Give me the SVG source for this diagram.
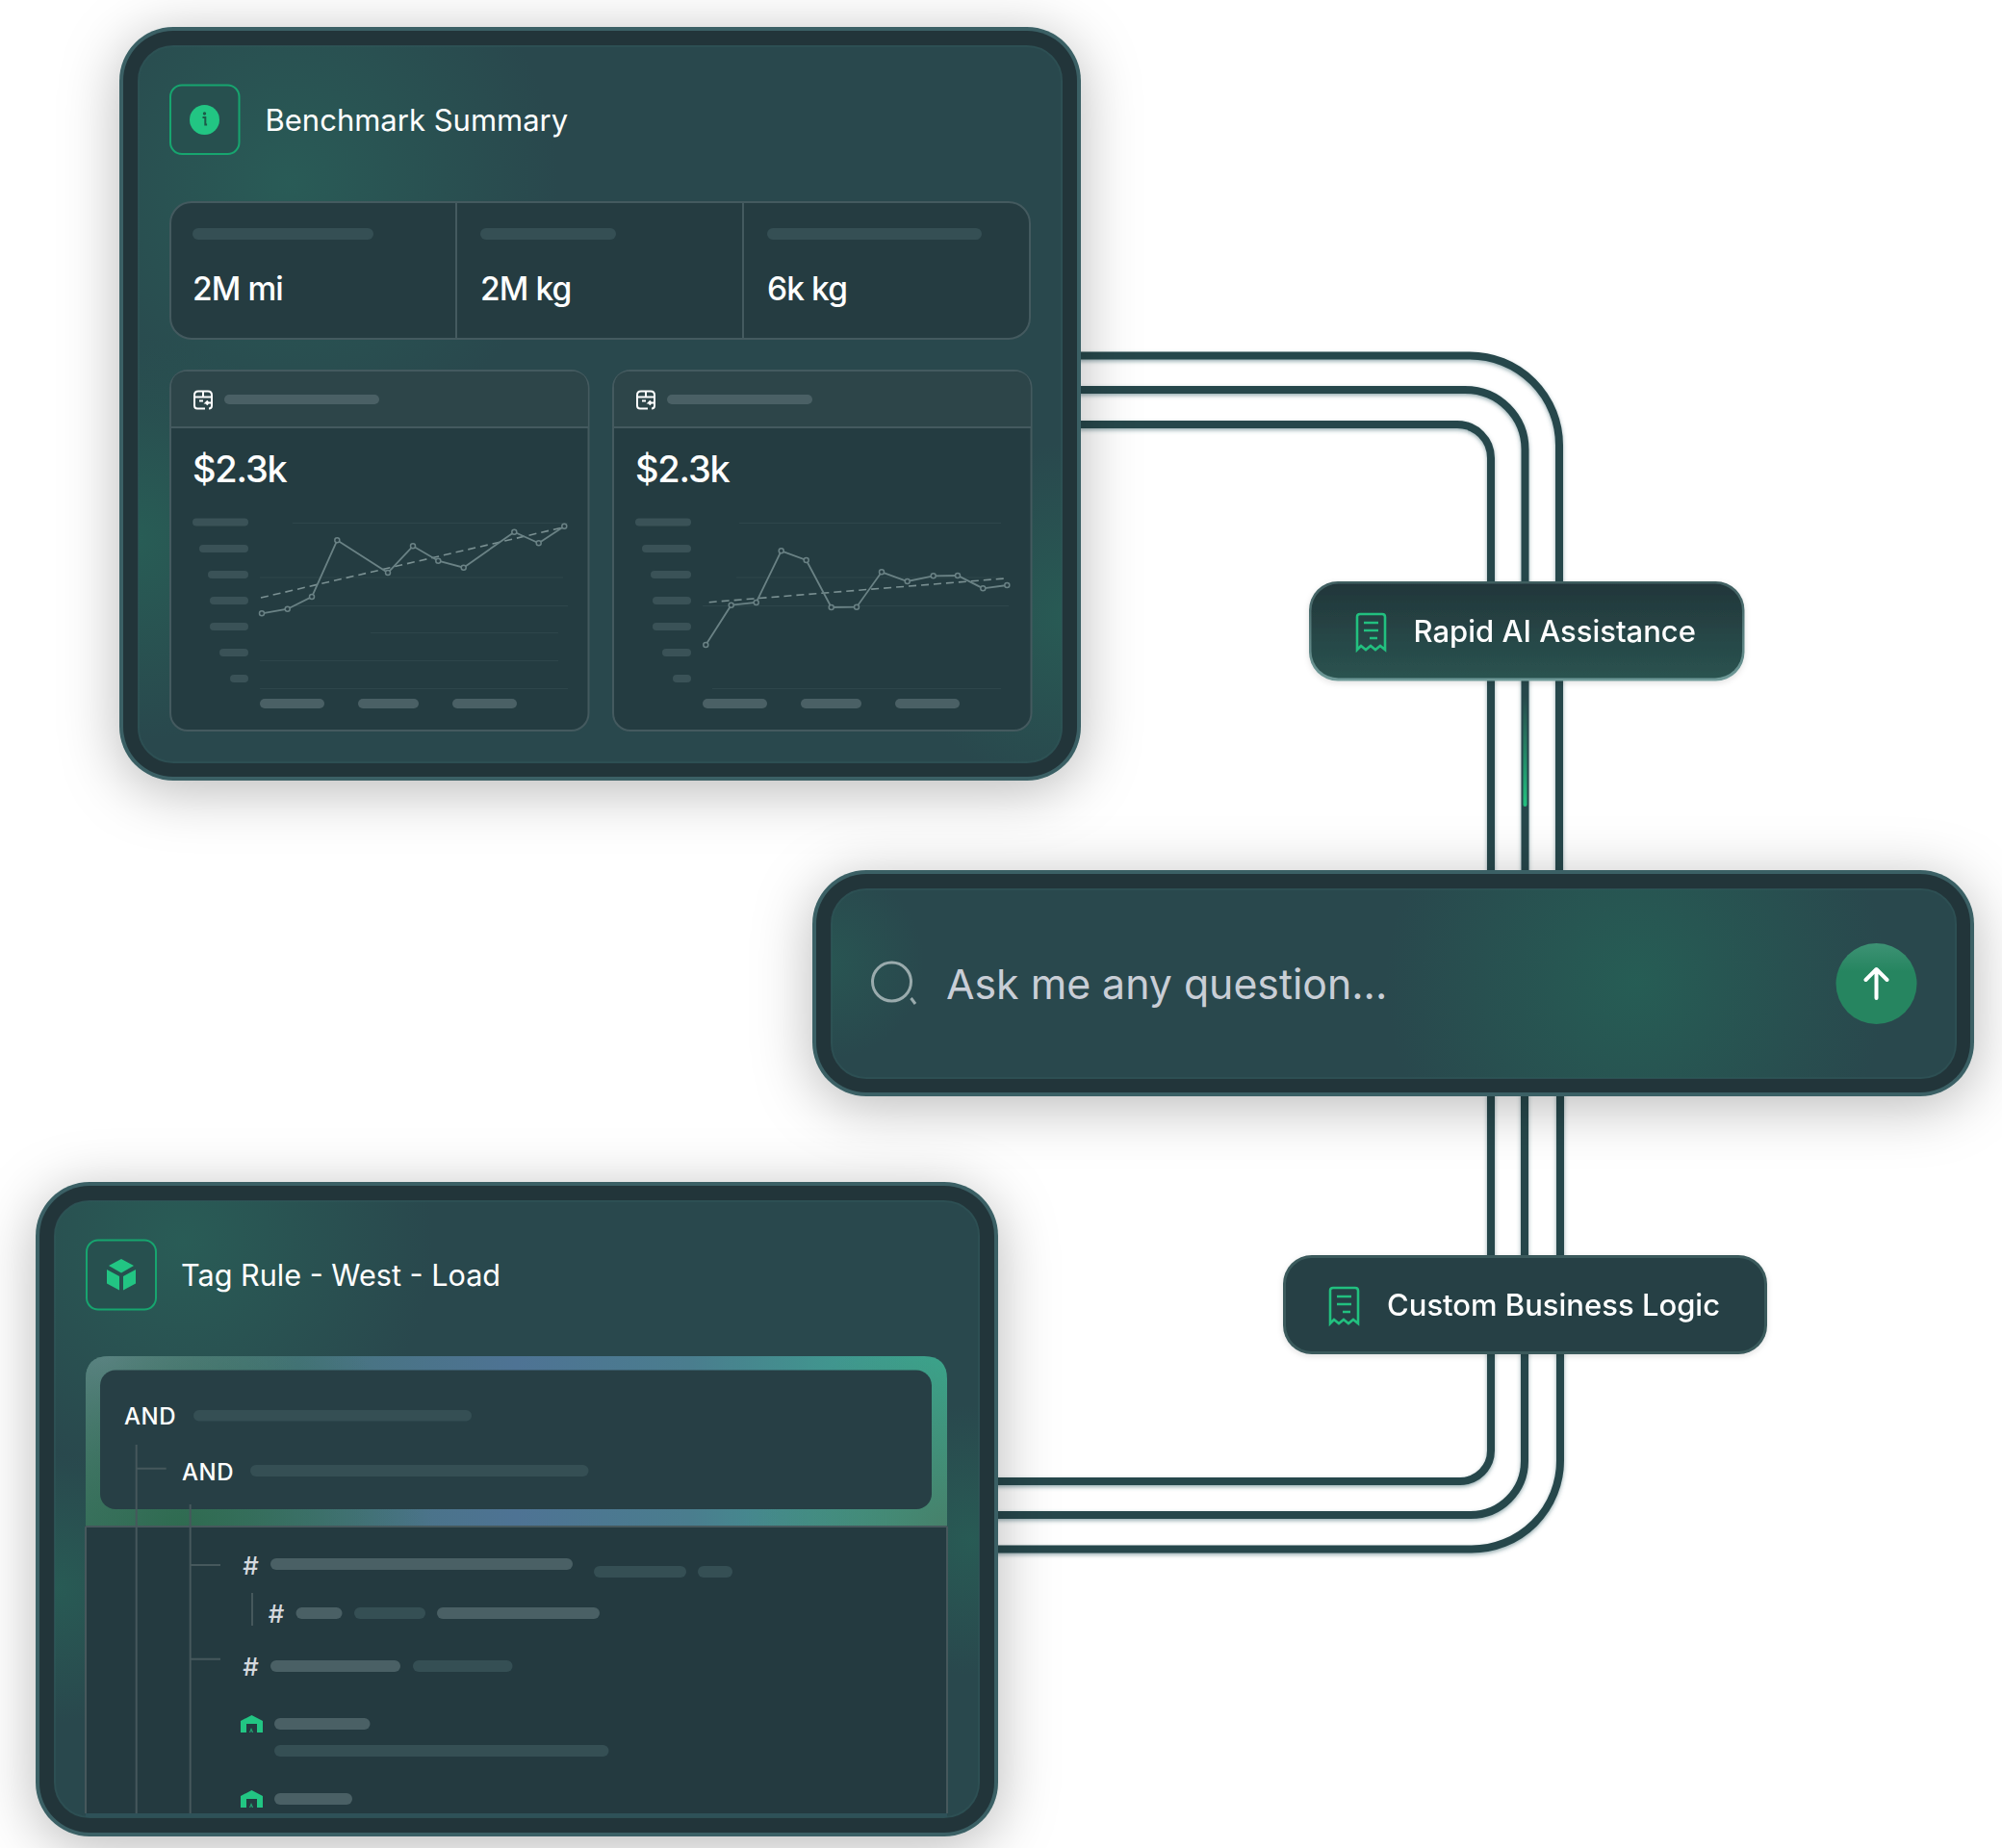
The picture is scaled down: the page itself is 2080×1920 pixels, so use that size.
<svg xmlns="http://www.w3.org/2000/svg" width="2080" height="1920" viewBox="0 0 2080 1920">
<style>
text{font-family:"Inter","Liberation Sans",sans-serif;fill:#fff}
.title{font-size:31px;font-weight:400}
.val{font-size:33.500px;font-weight:500;letter-spacing:-.9px}
.big{font-size:38px;font-weight:500;letter-spacing:-1.2px}
.pill{font-size:31px;font-weight:500}
.and{font-size:24px;font-weight:500;letter-spacing:.6px}
.hash{font-size:26px;font-weight:500;fill:#d5d8de;text-anchor:middle}
.rim{fill:#3b6165}
.dark{fill:#22353a}
.base{fill:#29484d;stroke:#2d4f53;stroke-width:2}
.iconbox{fill:#27504f;stroke:#17a56f;stroke-width:2}
.stat{fill:#253c41;stroke:#445a5f;stroke-width:2}
.chart{fill:#243c41;stroke:#445a5f;stroke-width:2}
.chead{fill:#2d4549}
.div{stroke:#445a5f;stroke-width:2;fill:none}
.bar{fill:#354f54}
.bar2{fill:#4a6065}
.tick{fill:#3a5257}
.grid{stroke:#2e464b;stroke-width:1;fill:none}
.series{fill:none;stroke:#6a8285;stroke-width:1.8}
.trend{fill:none;stroke:#7a9092;stroke-width:1.6;stroke-dasharray:8 5}
.dots{fill:#263c42;stroke:#6a8285;stroke-width:1.5}
.line{fill:none;stroke:#27474b;stroke-width:8}
.tree{stroke:#46585c;stroke-width:2;fill:none}
.grn{fill:#22c583}
.rcpt{fill:none;stroke:#22c07f;stroke-width:2.6}
.boxi{fill:none;stroke:#fff;stroke-width:2}
</style>
<defs>
<filter id="cardShadow" x="-20%" y="-30%" width="140%" height="170%"><feDropShadow dx="0" dy="10" stdDeviation="30" flood-color="#000" flood-opacity=".28"/></filter>
<filter id="lineShadow" x="-5%" y="-5%" width="110%" height="110%"><feDropShadow dx="0" dy="2" stdDeviation="2" flood-color="#3d6a70" flood-opacity=".55"/></filter>
<filter id="pillShadow" x="-10%" y="-20%" width="120%" height="140%"><feDropShadow dx="0" dy="2" stdDeviation="3" flood-color="#000" flood-opacity=".12"/></filter>
<radialGradient id="gA" gradientUnits="userSpaceOnUse" cx="300" cy="190" r="280"><stop offset="0" stop-color="#295c57" stop-opacity=".95"/><stop offset="1" stop-color="#295c57" stop-opacity="0"/></radialGradient>
<radialGradient id="gB" gradientUnits="userSpaceOnUse" cx="140" cy="560" r="210"><stop offset="0" stop-color="#285e56" stop-opacity=".95"/><stop offset="1" stop-color="#285e56" stop-opacity="0"/></radialGradient>
<radialGradient id="gC" gradientUnits="userSpaceOnUse" cx="1110" cy="640" r="180"><stop offset="0" stop-color="#285e56" stop-opacity=".85"/><stop offset="1" stop-color="#285e56" stop-opacity="0"/></radialGradient>
<radialGradient id="gD" gradientUnits="userSpaceOnUse" cx="1700" cy="1020" r="260"><stop offset="0" stop-color="#265e55" stop-opacity=".95"/><stop offset="1" stop-color="#265e55" stop-opacity="0"/></radialGradient>
<radialGradient id="gE" gradientUnits="userSpaceOnUse" cx="860" cy="1000" r="100"><stop offset="0" stop-color="#285e56" stop-opacity=".6"/><stop offset="1" stop-color="#285e56" stop-opacity="0"/></radialGradient>
<radialGradient id="gF" gradientUnits="userSpaceOnUse" cx="190" cy="1290" r="260"><stop offset="0" stop-color="#295e57" stop-opacity=".9"/><stop offset="1" stop-color="#295e57" stop-opacity="0"/></radialGradient>
<radialGradient id="gG" gradientUnits="userSpaceOnUse" cx="60" cy="1650" r="140"><stop offset="0" stop-color="#285e56" stop-opacity=".85"/><stop offset="1" stop-color="#285e56" stop-opacity="0"/></radialGradient>
<radialGradient id="gH" gradientUnits="userSpaceOnUse" cx="1010" cy="1600" r="140"><stop offset="0" stop-color="#285e56" stop-opacity=".85"/><stop offset="1" stop-color="#285e56" stop-opacity="0"/></radialGradient>
<linearGradient id="frame" gradientUnits="userSpaceOnUse" x1="89" y1="0" x2="984" y2="0"><stop offset="0" stop-color="#3f7566"/><stop offset=".5" stop-color="#4e7394"/><stop offset=".7" stop-color="#4a7d8e"/><stop offset="1" stop-color="#39a98f"/></linearGradient>
<radialGradient id="frameBL" gradientUnits="userSpaceOnUse" cx="190" cy="1590" r="260"><stop offset="0" stop-color="#2f6b50"/><stop offset="1" stop-color="#2f6b50" stop-opacity="0"/></radialGradient>
<radialGradient id="frameTL" gradientUnits="userSpaceOnUse" cx="110" cy="1410" r="200"><stop offset="0" stop-color="#66898f"/><stop offset="1" stop-color="#66898f" stop-opacity="0"/></radialGradient>
<radialGradient id="frameBR" gradientUnits="userSpaceOnUse" cx="984" cy="1590" r="210"><stop offset="0" stop-color="#47806a"/><stop offset="1" stop-color="#47806a" stop-opacity="0"/></radialGradient>
<linearGradient id="pillFill" x1="0" y1="0" x2="0" y2="1"><stop offset="0" stop-color="#22363a"/><stop offset="1" stop-color="#2a5350"/></linearGradient>
<linearGradient id="pillEdge" x1="0" y1="0" x2="0" y2="1"><stop offset="0" stop-color="#3f5e60"/><stop offset="1" stop-color="#6f9a98"/></linearGradient>
<linearGradient id="spark" gradientUnits="userSpaceOnUse" x1="0" y1="723" x2="0" y2="838"><stop offset="0" stop-color="#22c07f" stop-opacity="0"/><stop offset="1" stop-color="#22c07f"/></linearGradient>
<linearGradient id="btn" x1="0" y1="0" x2="0" y2="1"><stop offset="0" stop-color="#3d9274"/><stop offset=".35" stop-color="#268560"/><stop offset="1" stop-color="#268560"/></linearGradient>
<symbol id="receipt" viewBox="0 0 31 39" width="31" height="39" overflow="visible"><path class="rcpt" d="M1 38V4q0-3 3-3h23q3 0 3 3v34l-5-4-5 4-5-4-5 4-5-4z"/><path class="rcpt" d="M8 10h15M8 18h15M14 26h8"/></symbol>
<symbol id="box" viewBox="0 0 20 20" width="20" height="20" overflow="visible"><path class="boxi" d="M12 19H4q-3 0-3-3V5q0-4 4-4h10q4 0 4 4v11q0 3-3 3M1 7h18M10 1v6M6 11h4"/><path class="boxi" d="M18 13h-5l2-2m-2 2l2 2"/></symbol>
<symbol id="house" viewBox="0 0 23 18" width="23" height="18" overflow="visible"><path class="grn" d="M0 6L11.500 0 23 6V18H17V9H6V18H0z"/><path class="grn" d="M11 13l-2 5h1.200l.8-2 .8 2H13.200z" opacity=".75"/></symbol>
</defs>
<rect width="2080" height="1920" fill="#fff"/>

<g id="connectors" filter="url(#lineShadow)">
<path class="line" d="M1120 369.500H1527A93 93 0 0 1 1620 462.500V910"/>
<path class="line" d="M1120 405H1522.500A62 62 0 0 1 1584.500 467V910"/>
<path class="line" d="M1120 441H1514A35 35 0 0 1 1549 476V910"/>
<path class="line" d="M1549 1135V1507A32 32 0 0 1 1517 1539H1030"/>
<path class="line" d="M1584 1135V1518A56 56 0 0 1 1528 1574H1030"/>
<path class="line" d="M1621 1135V1517.500A92 92 0 0 1 1529 1609.500H1030"/>
<rect x="1582.500" y="723" width="4" height="115" rx="2" fill="url(#spark)"/>
</g>

<g id="benchmark-card">
<rect class="rim" x="124" y="28" width="999" height="783" rx="56" filter="url(#cardShadow)"/>
<rect class="dark" x="128" y="32" width="991" height="775" rx="52"/>
<rect class="base" x="144" y="48" width="959" height="744" rx="36"/>
<rect x="144" y="48" width="959" height="744" rx="36" fill="url(#gA)"/>
<rect x="144" y="48" width="959" height="744" rx="36" fill="url(#gB)"/>
<rect x="144" y="48" width="959" height="744" rx="36" fill="url(#gC)"/>
<rect class="iconbox" x="177" y="88.500" width="71.500" height="71.500" rx="12"/>
<circle class="grn" cx="212.500" cy="124.500" r="15.500"/>
<circle cx="212.500" cy="118" r="1.700" fill="#1d5a48"/>
<path d="M210.500 122h2.800v7.500h1.800" fill="none" stroke="#1d5a48" stroke-width="2"/>
<text class="title" x="275.500" y="136">Benchmark Summary</text>
<rect class="stat" x="177" y="210" width="893" height="142" rx="22"/>
<path class="div" d="M474 210V352M772 210V352"/>
<rect class="bar" x="200" y="237" width="188" height="12" rx="6"/>
<rect class="bar" x="499" y="237" width="141" height="12" rx="6"/>
<rect class="bar" x="797" y="237" width="223" height="12" rx="6"/>
<text class="val" x="200" y="312">2M mi</text>
<text class="val" x="499" y="312">2M kg</text>
<text class="val" x="797" y="312">6k kg</text>

<g id="chart-left">
<rect class="chart" x="177" y="385" width="434.500" height="374" rx="18"/>
<path class="chead" d="M178 444V403q0-17 17-17H593.500q17 0 17 17V444z"/>
<path class="div" d="M177 444H611.500"/>
<use href="#box" x="201" y="405.500"/>
<rect class="bar2" x="233" y="410" width="161" height="10" rx="5"/>
<text class="big" x="200" y="501">$2.3k</text>
<path class="grid" d="M304 543.500H590M270 600H585M305 629.500H590M385 657.500H580M270 686.500H580M270 715.500H590"/>
<g class="tick"><rect x="200" y="538.500" width="58" height="8" rx="4"/><rect x="207" y="566" width="51" height="8" rx="4"/><rect x="216" y="593" width="42" height="8" rx="4"/><rect x="218" y="620" width="40" height="8" rx="4"/><rect x="218" y="647" width="40" height="8" rx="4"/><rect x="228" y="674" width="30" height="8" rx="4"/><rect x="239" y="701" width="19" height="8" rx="4"/></g>
<rect class="bar2" x="270" y="726" width="67" height="10" rx="5"/><rect class="bar2" x="372" y="726" width="63" height="10" rx="5"/><rect class="bar2" x="470" y="726" width="67" height="10" rx="5"/>
<path class="trend" d="M271 621L583.300 548.300"/>
<polyline class="series" points="272,637.300 298.700,632.700 324,620 350.300,561.300 403,595 429,567.300 455.300,582.700 481.700,589.700 534.300,552.700 559.700,564.300 586.300,546.700"/>
<g class="dots"><circle cx="272" cy="637.300" r="2.500"/><circle cx="298.700" cy="632.700" r="2.500"/><circle cx="324" cy="620" r="2.500"/><circle cx="350.300" cy="561.300" r="2.500"/><circle cx="403" cy="595" r="2.500"/><circle cx="429" cy="567.300" r="2.500"/><circle cx="455.300" cy="582.700" r="2.500"/><circle cx="481.700" cy="589.700" r="2.500"/><circle cx="534.300" cy="552.700" r="2.500"/><circle cx="559.700" cy="564.300" r="2.500"/><circle cx="586.300" cy="546.700" r="2.500"/></g>
</g>

<g id="chart-right">
<rect class="chart" x="637" y="385" width="434.500" height="374" rx="18"/>
<path class="chead" d="M638 444V403q0-17 17-17H1053.500q17 0 17 17V444z"/>
<path class="div" d="M637 444H1071.500"/>
<use href="#box" x="661" y="405.500"/>
<rect class="bar2" x="693" y="410" width="151" height="10" rx="5"/>
<text class="big" x="660" y="501">$2.3k</text>
<path class="grid" d="M768 543.500H1040M765 600H1040M730 629.500H1048M740 715.500H1040"/>
<g class="tick"><rect x="660" y="538.500" width="58" height="8" rx="4"/><rect x="667" y="566" width="51" height="8" rx="4"/><rect x="676" y="593" width="42" height="8" rx="4"/><rect x="678" y="620" width="40" height="8" rx="4"/><rect x="678" y="647" width="40" height="8" rx="4"/><rect x="688" y="674" width="30" height="8" rx="4"/><rect x="699" y="701" width="19" height="8" rx="4"/></g>
<rect class="bar2" x="730" y="726" width="67" height="10" rx="5"/><rect class="bar2" x="832" y="726" width="63" height="10" rx="5"/><rect class="bar2" x="930" y="726" width="67" height="10" rx="5"/>
<path class="trend" d="M736.700 625.700L1044 601"/>
<polyline class="series" points="733.300,670 759.700,628.700 785.700,626 811.700,572.300 837.700,582 863.700,631 890,630.700 916,594.300 942.700,604 969.700,598.300 995,598 1021.300,611.300 1046.300,608"/>
<g class="dots"><circle cx="733.300" cy="670" r="2.500"/><circle cx="759.700" cy="628.700" r="2.500"/><circle cx="785.700" cy="626" r="2.500"/><circle cx="811.700" cy="572.300" r="2.500"/><circle cx="837.700" cy="582" r="2.500"/><circle cx="863.700" cy="631" r="2.500"/><circle cx="890" cy="630.700" r="2.500"/><circle cx="916" cy="594.300" r="2.500"/><circle cx="942.700" cy="604" r="2.500"/><circle cx="969.700" cy="598.300" r="2.500"/><circle cx="995" cy="598" r="2.500"/><circle cx="1021.300" cy="611.300" r="2.500"/><circle cx="1046.300" cy="608" r="2.500"/></g>
</g>
</g>

<g id="rapid-ai-pill" filter="url(#pillShadow)">
<rect x="1360" y="604" width="452.500" height="103.500" rx="30" fill="url(#pillEdge)"/>
<rect x="1362.500" y="606.500" width="447.500" height="98" rx="28" fill="url(#pillFill)"/>
<use href="#receipt" x="1409" y="637"/>
<text class="pill" x="1468.500" y="667">Rapid AI Assistance</text>
</g>

<g id="search-bar">
<rect class="rim" x="844" y="904" width="1207" height="235" rx="56" filter="url(#cardShadow)"/>
<rect class="dark" x="848" y="908" width="1199" height="227" rx="52"/>
<rect class="base" x="864" y="924" width="1168" height="196" rx="36"/>
<rect x="864" y="924" width="1168" height="196" rx="36" fill="url(#gD)"/>
<rect x="864" y="924" width="1168" height="196" rx="36" fill="url(#gE)"/>
<circle cx="926.500" cy="1020" r="20" fill="none" stroke="#9aabad" stroke-width="3"/>
<path d="M946.500 1037l4.500 6" fill="none" stroke="#9aabad" stroke-width="3"/>
<text x="983" y="1037.500" font-size="42.800" font-weight="400" style="fill:#c9ced6">Ask me any question...</text>
<circle cx="1949.500" cy="1022" r="42" fill="url(#btn)"/>
<path d="M1949.500 1037V1007M1938.500 1018l11-11 11 11" fill="none" stroke="#fff" stroke-width="4" stroke-linecap="round" stroke-linejoin="round"/>
</g>

<g id="custom-logic-pill" filter="url(#pillShadow)">
<rect x="1333" y="1304" width="503" height="103" rx="30" fill="#3a5a5c"/>
<rect x="1336" y="1307" width="497" height="97" rx="27" fill="#254044"/>
<use href="#receipt" x="1381" y="1337"/>
<text class="pill" x="1441" y="1367">Custom Business Logic</text>
</g>

<g id="tag-rule-card">
<rect class="rim" x="37" y="1228" width="1000" height="680" rx="56" filter="url(#cardShadow)"/>
<rect class="dark" x="41" y="1232" width="992" height="672" rx="52"/>
<rect class="base" x="57" y="1248" width="960" height="640" rx="36"/>
<rect x="57" y="1248" width="960" height="640" rx="36" fill="url(#gF)"/>
<rect x="57" y="1248" width="960" height="640" rx="36" fill="url(#gG)"/>
<rect x="57" y="1248" width="960" height="640" rx="36" fill="url(#gH)"/>
<rect class="iconbox" x="90" y="1288.500" width="72" height="72" rx="12"/>
<path class="grn" d="M126 1308l13 7-13 7.500-13-7.500zM111 1319l13 7v14.500l-13-7zM141 1319l-13 7v14.500l13-7z"/>
<text class="title" x="188" y="1336" style="font-size:30.600px">Tag Rule - West - Load</text>

<path d="M89 1586V1433q0-24 24-24H960q24 0 24 24V1586z" fill="url(#frame)"/>
<path d="M89 1586V1433q0-24 24-24H960q24 0 24 24V1586z" fill="url(#frameTL)"/>
<path d="M89 1586V1433q0-24 24-24H960q24 0 24 24V1586z" fill="url(#frameBR)"/>
<path d="M89 1586V1433q0-24 24-24H960q24 0 24 24V1586z" fill="url(#frameBL)"/>
<rect x="104" y="1423.500" width="864" height="144.500" rx="16" fill="#273f45"/>
<rect x="89" y="1586" width="895" height="298" fill="#243a40"/>
<path class="tree" d="M89 1586H984M89 1586V1884M984 1586V1884"/>
<rect x="89" y="1884" width="895" height="4" fill="#2e5158"/>

<text class="and" x="129" y="1480">AND</text>
<rect class="bar" x="201" y="1465" width="289" height="11.500" rx="5.700"/>
<text class="and" x="189" y="1538">AND</text>
<rect class="bar" x="260" y="1522" width="351.500" height="12" rx="6"/>
<path class="tree" d="M141.700 1501V1884M142 1525.700H172.700M197.700 1563V1884M198 1626H229M198 1723.700H229M262 1655V1689"/>

<text class="hash" x="260.500" y="1636">#</text>
<rect class="bar2" x="281" y="1619" width="314" height="12" rx="6"/>
<rect class="bar" x="617" y="1627" width="96" height="12" rx="6"/>
<rect class="bar" x="725" y="1627" width="36" height="12" rx="6"/>
<text class="hash" x="287" y="1686">#</text>
<rect class="bar2" x="307.500" y="1670" width="48" height="12" rx="6"/>
<rect class="bar" x="368" y="1670" width="74" height="12" rx="6"/>
<rect class="bar2" x="454" y="1670" width="169" height="12" rx="6"/>
<text class="hash" x="260.500" y="1741">#</text>
<rect class="bar2" x="281" y="1725" width="135" height="12" rx="6"/>
<rect class="bar" x="429" y="1725" width="103.500" height="12" rx="6"/>
<use href="#house" x="250" y="1782"/>
<rect class="bar2" x="285" y="1785" width="99.500" height="12" rx="6"/>
<rect class="bar" x="285" y="1813" width="347.500" height="12" rx="6"/>
<use href="#house" x="250" y="1860"/>
<rect class="bar2" x="285" y="1863" width="81" height="12" rx="6"/>
</g>
</svg>
